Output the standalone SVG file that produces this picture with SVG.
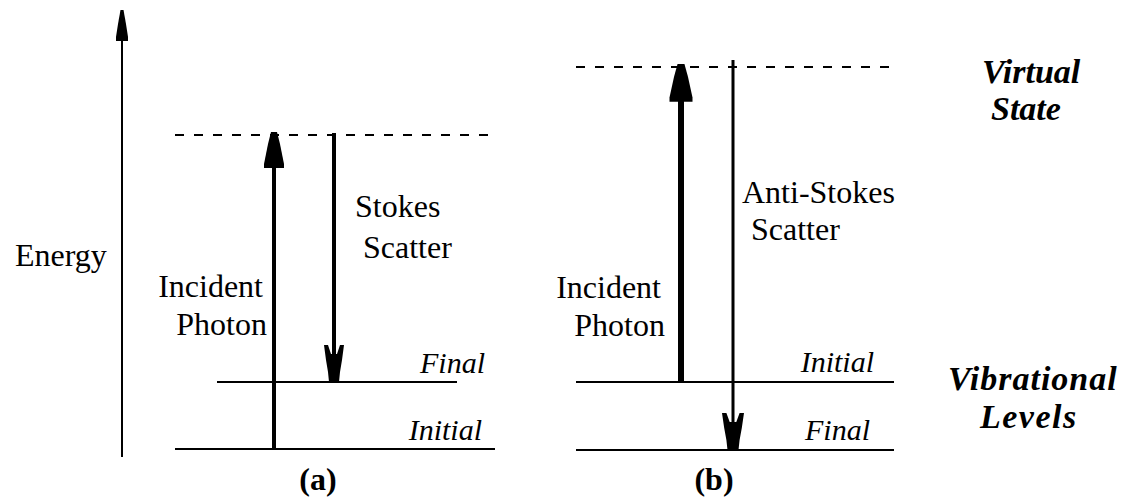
<svg xmlns="http://www.w3.org/2000/svg" width="1129" height="503" viewBox="0 0 1129 503">
  <style>
    text { font-family: 'Liberation Serif', 'DejaVu Serif', serif; fill: #000; }
    .lbl { font-size: 32px; }
    .lvl { font-size: 30px; font-style: italic; }
    .side { font-size: 34px; font-style: italic; font-weight: bold; }
    .cap { font-size: 32px; font-weight: bold; text-anchor: middle; }
    .level { stroke: #000; stroke-width: 2; fill: none; }
    .dash { stroke: #000; stroke-width: 2; stroke-dasharray: 9 10; fill: none; }
  </style>
  <defs>
    <!-- upward head, tip at origin -->
    <path id="head-up" d="M -3,0 L 3,0 L 6,12 L 8,22 L 10,32 L 10,36 L -10,36 L -10,32 L -8,22 L -6,12 Z" fill="#000"/>
    <!-- downward barbed head, tip at origin -->
    <path id="head-down" d="M -10,-37 L -6,-37 L -3,-28 L 3,-28 L 6,-37 L 10,-37 L 8,-22 L 6,-10 L 5,0 L -5,0 L -6,-10 L -8,-22 Z" fill="#000"/>
    <!-- slim head for the energy axis -->
    <path id="head-axis" d="M -1.5,0 L 1.5,0 L 4,14 L 6,27 L 6,31 L -6,31 L -6,27 L -4,14 Z" fill="#000"/>
  </defs>
  <rect width="1129" height="503" fill="#fff"/>

  <g font-family="'Liberation Serif', 'DejaVu Serif', serif">
  <!-- energy axis -->
  <g id="energy-axis">
    <line x1="122" y1="12" x2="122" y2="457" stroke="#000" stroke-width="2"/>
    <use href="#head-axis" x="122" y="10"/>
    <text class="lbl" x="15" y="266">Energy</text>
  </g>

  <!-- levels, panel (a) -->
  <g id="levels-a">
    <line class="dash" x1="175" y1="135" x2="493" y2="135"/>
    <line class="level" x1="217" y1="382" x2="457" y2="382"/>
    <line class="level" x1="175" y1="449" x2="495" y2="449"/>
    <text class="lvl" x="485" y="373" text-anchor="end">Final</text>
    <text class="lvl" x="482" y="440" text-anchor="end">Initial</text>
  </g>

  <!-- levels, panel (b) -->
  <g id="levels-b">
    <line class="dash" x1="576" y1="67" x2="893" y2="67"/>
    <line class="level" x1="576" y1="382" x2="894" y2="382"/>
    <line class="level" x1="576" y1="450" x2="894" y2="450"/>
    <text class="lvl" x="874" y="372" text-anchor="end">Initial</text>
    <text class="lvl" x="870" y="440" text-anchor="end">Final</text>
  </g>

  <!-- transitions -->
  <g id="connectors">
    <line x1="274" y1="150" x2="274" y2="449" stroke="#000" stroke-width="4"/>
    <use href="#head-up" x="274" y="132"/>
    <line x1="334" y1="133" x2="334" y2="360" stroke="#000" stroke-width="4"/>
    <use href="#head-down" x="334" y="382"/>
    <line x1="681" y1="85" x2="681" y2="382" stroke="#000" stroke-width="6"/>
    <g transform="translate(681 64) scale(1.15 1.05)"><use href="#head-up"/></g>
    <line x1="733" y1="60" x2="733" y2="430" stroke="#000" stroke-width="3"/>
    <g transform="translate(733 450) scale(1.1 1)"><use href="#head-down"/></g>
  </g>

  <!-- transition labels -->
  <g id="labels-a">
    <text class="lbl" x="263" y="297" text-anchor="end">Incident</text>
    <text class="lbl" x="267" y="335" text-anchor="end">Photon</text>
    <text class="lbl" x="355" y="217">Stokes</text>
    <text class="lbl" x="363" y="258">Scatter</text>
    <text class="cap" x="318" y="490">(a)</text>
  </g>
  <g id="labels-b">
    <text class="lbl" x="661" y="298" text-anchor="end">Incident</text>
    <text class="lbl" x="665" y="336" text-anchor="end">Photon</text>
    <text class="lbl" x="742" y="203">Anti-Stokes</text>
    <text class="lbl" x="751" y="240">Scatter</text>
    <text class="cap" x="714" y="490">(b)</text>
  </g>

  <!-- side captions -->
  <g id="virtual-state">
    <text class="side" x="982" y="83">Virtual</text>
    <text class="side" x="991" y="120">State</text>
  </g>
  <g id="vibrational-levels">
    <text class="side" x="948" y="390" letter-spacing="1">Vibrational</text>
    <text class="side" x="980" y="428" letter-spacing="1.5">Levels</text>
  </g>
  </g>
</svg>
